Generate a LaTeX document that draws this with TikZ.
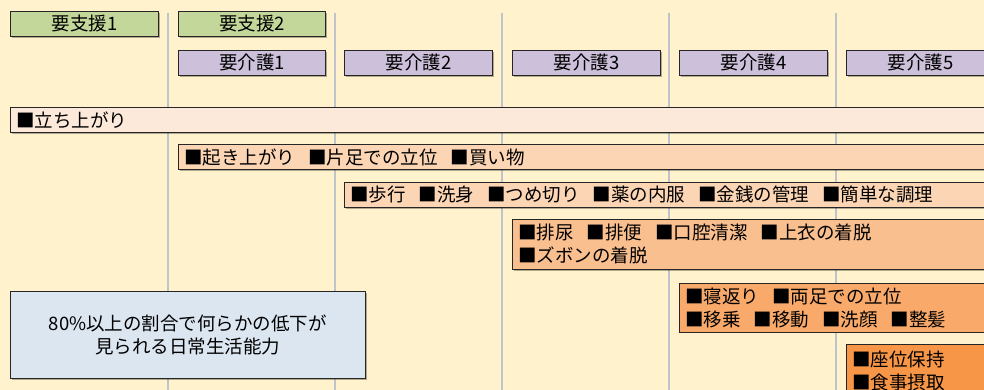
\documentclass[tikz,border=0pt]{standalone}
\usepackage{fontspec}
\setmainfont{Noto Sans CJK JP}
\usetikzlibrary{shadows}
\definecolor{bgc}{HTML}{FFF2CC}
\definecolor{gridc}{HTML}{BFC3CC}
\definecolor{greenc}{HTML}{C4D79B}
\definecolor{purplec}{HTML}{CCC0DA}
\definecolor{barA}{HTML}{FDE9D9}
\definecolor{barB}{HTML}{FCD5B4}
\definecolor{barC}{HTML}{FABF8F}
\definecolor{barD}{HTML}{F9AA6A}
\definecolor{barE}{HTML}{F79646}
\definecolor{bluec}{HTML}{DCE6F1}
\newcommand{\gap}{\hspace{0.7em}}
\begin{document}
\begin{tikzpicture}[x=1pt,y=-1pt,
  font=\fontsize{18.5}{23}\selectfont,
  box/.style={draw=black!85, line width=0.8pt, anchor=north west,
    drop shadow={shadow xshift=1.2pt, shadow yshift=-1.2pt, fill=black, opacity=0.3}},
  lab/.style={box, inner sep=0pt, minimum height=25pt},
  bar/.style={box, inner xsep=6pt, inner ysep=0pt, text width=1000pt, align=left},
  gridline/.style={draw=gridc, line width=1.4pt}
]
\useasboundingbox (0,0) rectangle (984,390);
\clip (0,0) rectangle (984,390);
\fill[bgc] (0,0) rectangle (984,390);
\foreach \gx in {168,335,502,669,836}
  \draw[gridline] (\gx,13) -- (\gx,392);

\node[lab, fill=greenc, minimum width=148pt] (s1) at (10,11) {要支援1};
\node[lab, fill=greenc, minimum width=147pt] (s2) at (178,11) {要支援2};
\node[lab, fill=purplec, minimum width=147pt] (k1) at (178,50) {要介護1};
\node[lab, fill=purplec, minimum width=148pt] (k2) at (344,50) {要介護2};
\node[lab, fill=purplec, minimum width=148pt] (k3) at (512,50) {要介護3};
\node[lab, fill=purplec, minimum width=148pt] (k4) at (679,50) {要介護4};
\node[lab, fill=purplec, minimum width=148pt] (k5) at (846,50) {要介護5};

\node[bar, fill=barA, minimum height=25pt] (b1) at (10,107) {■立ち上がり};
\node[bar, fill=barB, minimum height=25.5pt] (b2) at (178,144) {■起き上がり\gap■片足での立位\gap■買い物};
\node[bar, fill=barB, minimum height=25pt] (b3) at (344,182) {■歩行\gap■洗身\gap■つめ切り\gap■薬の内服\gap■金銭の管理\gap■簡単な調理};
\node[bar, fill=barC, minimum height=50pt] (b4) at (512,219) {■排尿\gap■排便\gap■口腔清潔\gap■上衣の着脱\\■ズボンの着脱};
\node[bar, fill=barD, minimum height=48.5pt] (b5) at (679,283) {■寝返り\gap■両足での立位\\■移乗\gap■移動\gap■洗顔\gap■整髪};
\node[bar, fill=barE, minimum height=54pt] (b6) at (846,344) {■座位保持\\■食事摂取};

\node[box, fill=bluec, minimum width=355pt, minimum height=87pt, inner sep=0pt, align=center] (note) at (10,291)
  {80\%以上の割合で何らかの低下が\\見られる日常生活能力};
\end{tikzpicture}
\end{document}
